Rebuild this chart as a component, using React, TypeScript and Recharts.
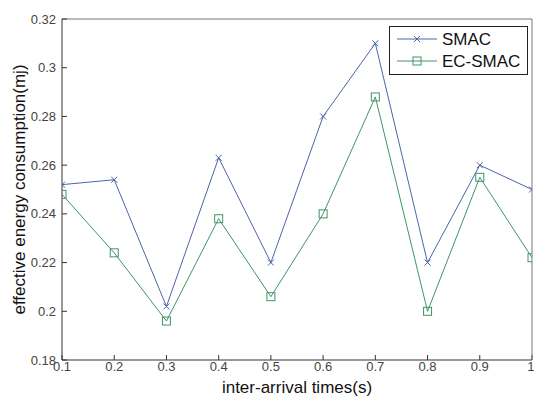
import { LineChart, Line, XAxis, YAxis, Label } from 'recharts';

const times = [0.1, 0.2, 0.3, 0.4, 0.5, 0.6, 0.7, 0.8, 0.9, 1];
const smac = [0.252, 0.254, 0.202, 0.263, 0.22, 0.28, 0.31, 0.22, 0.26, 0.25];
const ecSmac = [0.248, 0.224, 0.196, 0.238, 0.206, 0.24, 0.288, 0.2, 0.255, 0.222];
const xTicks = [0.1, 0.2, 0.3, 0.4, 0.5, 0.6, 0.7, 0.8, 0.9, 1];
const yTicks = [0.18, 0.2, 0.22, 0.24, 0.26, 0.28, 0.3, 0.32];

const data = times.map((t, i) => ({ t, smac: smac[i], ec: ecSmac[i] }));

const BLUE = '#4a64a8';
const GREEN = '#3f9468';
const FONT = '"Liberation Sans", Arial, sans-serif';

const fmt = (v: number) => String(+v.toFixed(2));

function CrossDot(props: any) {
  const { cx, cy } = props;
  if (cx == null || cy == null) return null;
  const s = 3;
  return (
    <g stroke={BLUE} strokeWidth={1}>
      <line x1={cx - s} y1={cy - s} x2={cx + s} y2={cy + s} />
      <line x1={cx - s} y1={cy + s} x2={cx + s} y2={cy - s} />
    </g>
  );
}

function SquareDot(props: any) {
  const { cx, cy } = props;
  if (cx == null || cy == null) return null;
  const s = 4;
  return <rect x={cx - s} y={cy - s} width={s * 2} height={s * 2} fill="none" stroke={GREEN} strokeWidth={1} />;
}

function LegendBox() {
  const rows = [
    { name: 'SMAC', color: BLUE, dot: 'x' },
    { name: 'EC-SMAC', color: GREEN, dot: 'sq' },
  ];
  return (
    <svg width={139} height={49} style={{ display: 'block' }}>
      <rect x={0.5} y={0.5} width={138} height={48} fill="#fff" stroke="#222" strokeWidth={1} />
      {rows.map((r, i) => {
        const y = 13 + i * 22;
        return (
          <g key={r.name}>
            <line x1={8} y1={y} x2={48} y2={y} stroke={r.color} strokeWidth={1} />
            {r.dot === 'x' ? (
              <g stroke={r.color}>
                <line x1={25} y1={y - 3} x2={31} y2={y + 3} />
                <line x1={25} y1={y + 3} x2={31} y2={y - 3} />
              </g>
            ) : (
              <rect x={24} y={y - 4} width={8} height={8} fill="none" stroke={r.color} />
            )}
            <text x={53} y={y + 6} fontSize={17} fontFamily={FONT} fill="#111">
              {r.name}
            </text>
          </g>
        );
      })}
    </svg>
  );
}

export default function App() {
  return (
    <div style={{ position: 'absolute', left: 0, top: 0, width: 534, height: 397, background: '#fff' }}>
      <LineChart width={534} height={397} data={data} margin={{ top: 18, right: 1, bottom: 0, left: 0 }}>
        <XAxis
          dataKey="t"
          type="number"
          domain={[0.1, 1]}
          ticks={xTicks}
          tickFormatter={fmt}
          height={37}
          stroke="#333"
          tickSize={-5}
          tickMargin={7}
          tick={{ fill: '#444', fontSize: 13, fontFamily: FONT }}
          allowDataOverflow
        >
          <Label value="inter-arrival times(s)" position="insideBottom" offset={0} dy={-4} fill="#111" fontSize={17} fontFamily={FONT} />
        </XAxis>
        <XAxis
          xAxisId="top"
          dataKey="t"
          type="number"
          orientation="top"
          domain={[0.1, 1]}
          ticks={xTicks}
          height={1}
          stroke="#777"
          tickSize={-5}
          tick={false}
        />
        <YAxis
          type="number"
          domain={[0.18, 0.32]}
          ticks={yTicks}
          tickFormatter={fmt}
          width={62}
          stroke="#333"
          tickSize={-5}
          tickMargin={11}
          tick={{ fill: '#444', fontSize: 13, fontFamily: FONT }}
          allowDataOverflow
        >
          <Label
            value="effective energy consumption(mj)"
            angle={-90}
            position="insideLeft"
            offset={0}
            dx={19}
            fill="#111"
            fontSize={17}
            fontFamily={FONT}
            style={{ textAnchor: 'middle' }}
          />
        </YAxis>
        <YAxis
          yAxisId="right"
          orientation="right"
          type="number"
          domain={[0.18, 0.32]}
          ticks={yTicks}
          width={1}
          stroke="#777"
          tickSize={-5}
          tick={false}
        />
        <Line dataKey="smac" name="SMAC" stroke={BLUE} strokeWidth={1} dot={<CrossDot />} isAnimationActive={false} />
        <Line dataKey="ec" name="EC-SMAC" stroke={GREEN} strokeWidth={1} dot={<SquareDot />} isAnimationActive={false} />
        <Line xAxisId="top" yAxisId="right" dataKey="smac" stroke="none" dot={false} legendType="none" isAnimationActive={false} />
      </LineChart>
      <div style={{ position: 'absolute', left: 389, top: 26 }}>
        <LegendBox />
      </div>
    </div>
  );
}
